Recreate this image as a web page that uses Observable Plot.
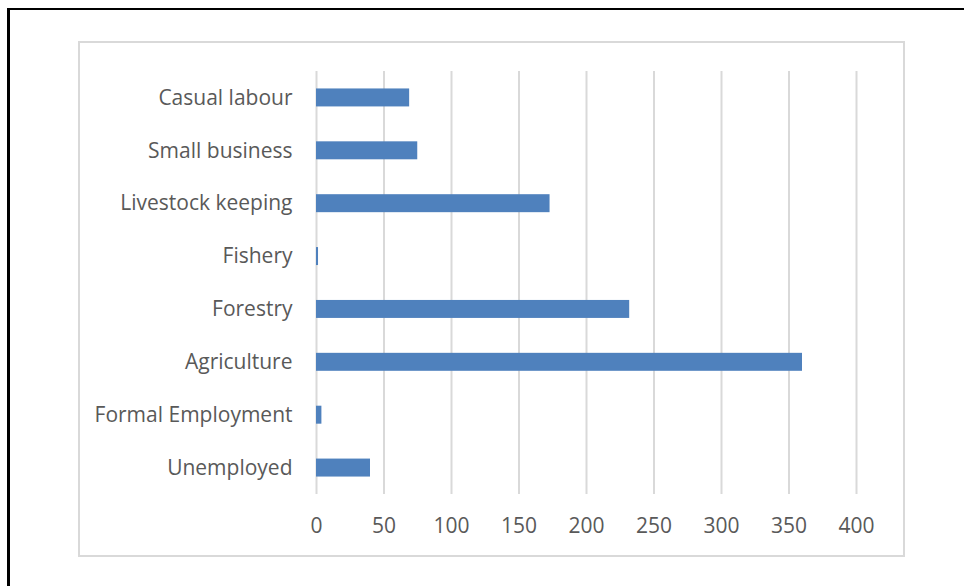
<!DOCTYPE html>
<html>
<head>
<meta charset="utf-8">
<script src="https://cdn.jsdelivr.net/npm/d3@7"></script>
<script src="https://cdn.jsdelivr.net/npm/@observablehq/plot@0.6"></script>
<style>
  html, body { margin: 0; padding: 0; background: #fff; }
  #wrap { position: relative; width: 964px; height: 586px; overflow: hidden; }
  #outer { position: absolute; left: 7px; top: 8px; width: 1000px; height: 1000px;
           border-left: 3px solid #000; border-top: 2.5px solid #000; box-sizing: border-box; }
  #inner { position: absolute; left: 78px; top: 41px; width: 827px; height: 516px;
           border: 2px solid #d9d9d9; box-sizing: border-box; }
  #chart { position: absolute; left: 0; top: 0; }
</style>
</head>
<body>
<div id="wrap">
  <div id="outer"></div>
  <div id="inner"></div>
  <div id="chart"></div>
</div>
<script>
const categories = ["Casual labour", "Small business", "Livestock keeping", "Fishery", "Forestry", "Agriculture", "Formal Employment", "Unemployed"];
const values = [69, 75, 173, 1.5, 232, 360, 4, 40];
const xTicks = [0, 50, 100, 150, 200, 250, 300, 350, 400];

const data = categories.map((c, i) => ({category: c, value: values[i]}));

const chart = Plot.plot({
  width: 964,
  height: 586,
  marginLeft: 316,
  marginRight: 108,
  marginTop: 71,
  marginBottom: 92,
  style: {fontFamily: "'Open Sans', sans-serif", fontSize: "21px", color: "#595959", background: "transparent", overflow: "visible"},
  x: {domain: [0, 400], ticks: xTicks, label: null},
  y: {domain: categories, paddingInner: 0.66, paddingOuter: 0.33, round: false, label: null},
  marks: [
    Plot.gridX(xTicks, {stroke: "#d9d9d9", strokeOpacity: 1, strokeWidth: 2}),
    Plot.barX(data, {x: "value", y: "category", fill: "#4f81bd"}),
    Plot.axisX({ticks: xTicks, tickSize: 0, tickPadding: 24, fill: "#595959", fontSize: 21, label: null}),
    Plot.axisY({tickSize: 0, tickPadding: 24, fill: "#595959", fontSize: 21, label: null})
  ]
});
document.getElementById("chart").appendChild(chart);
</script>
</body>
</html>
